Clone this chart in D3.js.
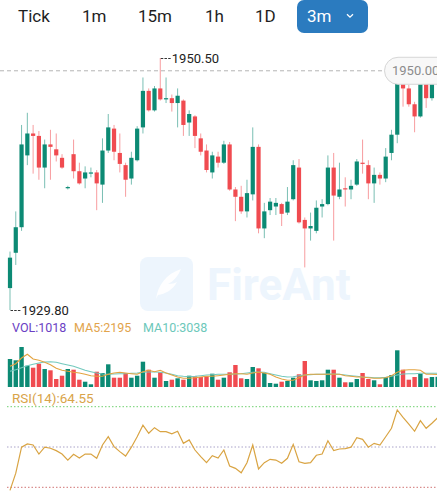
<!DOCTYPE html>
<html><head><meta charset="utf-8">
<script src="https://cdn.jsdelivr.net/npm/d3@7"></script>
<style>html,body{margin:0;padding:0;background:#fff;}svg{display:block;font-family:Roboto,"Noto Sans",sans-serif;}</style>
</head><body><div id="chart"></div>
<script>
const tabs = ["Tick","1m","15m","1h","1D"];
const activeTab = "3m";
const opens = [1931.6,1934.5,1936.6,1942.5,1944.3,1944.1,1941.5,1943.4,1943.0,1942.3,
1939.8,1942.6,1941.2,1940.6,1941.0,1941.1,1940.1,1942.9,1944.7,1942.7,
1941.7,1940.6,1942.1,1944.8,1947.8,1946.2,1948.0,1947.1,1947.2,1946.8,
1947.0,1945.2,1945.7,1943.9,1942.9,1941.1,1942.4,1941.9,1943.4,1939.7,
1939.1,1937.9,1939.3,1943.2,1936.5,1938.0,1938.3,1938.5,1937.8,1938.9,
1941.5,1937.2,1936.5,1936.3,1938.3,1938.5,1941.5,1939.1,1939.8,1939.7,
1940.1,1941.9,1941.7,1940.2,1940.9,1940.6,1942.7,1944.2,1948.5,1948.0,
1946.7,1945.7,1948.5,1947.2,1948.7];
const closes = [1934.1,1936.6,1943.4,1944.3,1944.1,1941.5,1943.4,1943.2,1942.5,1941.5,
1939.9,1941.2,1940.2,1941.1,1941.1,1940.2,1942.9,1944.8,1942.8,1941.8,
1940.5,1942.3,1944.7,1947.8,1946.2,1948.0,1947.1,1947.2,1946.8,1947.4,
1945.0,1945.9,1944.1,1942.8,1941.3,1942.5,1941.9,1943.4,1939.7,1939.1,
1937.9,1939.4,1943.2,1936.5,1937.9,1938.7,1938.6,1937.7,1938.7,1941.7,
1937.0,1936.5,1936.7,1938.2,1938.5,1941.5,1939.2,1939.7,1939.7,1940.0,
1942.0,1941.8,1940.2,1940.9,1940.6,1942.4,1944.2,1948.5,1948.0,1946.7,
1945.7,1948.7,1947.2,1948.7,1949.45];
const highs = [1934.6,1937.9,1945.0,1946.0,1945.0,1944.5,1943.8,1944.6,1944.3,1942.6,
1940.0,1943.8,1941.9,1941.6,1941.5,1941.3,1943.9,1945.9,1945.0,1944.3,
1941.9,1942.8,1944.9,1948.9,1948.0,1948.2,1950.5,1948.9,1947.5,1948.0,
1947.1,1946.2,1945.8,1944.3,1943.4,1942.8,1942.8,1943.7,1943.6,1939.9,
1940.0,1940.5,1944.8,1943.4,1938.6,1939.0,1939.0,1938.6,1939.9,1942.1,
1942.2,1937.4,1937.8,1938.8,1938.9,1942.5,1942.7,1941.9,1940.7,1940.5,
1942.2,1943.8,1942.1,1941.5,1941.1,1943.1,1944.6,1949.0,1948.9,1948.3,
1946.9,1949.0,1948.9,1949.0,1949.6];
const lows = [1929.8,1933.5,1936.3,1941.7,1941.0,1940.5,1939.8,1940.5,1942.0,1941.4,
1939.7,1940.6,1940.1,1939.8,1940.7,1938.0,1938.6,1942.7,1942.1,1941.1,
1939.1,1940.1,1942.0,1944.3,1946.1,1946.1,1947.0,1946.8,1946.1,1944.8,
1944.1,1944.1,1943.1,1942.5,1941.1,1940.6,1941.5,1941.8,1939.6,1937.1,
1937.7,1937.4,1938.8,1936.1,1935.7,1937.6,1937.6,1936.7,1937.6,1938.8,
1936.9,1933.3,1935.5,1936.1,1937.4,1938.4,1935.5,1938.9,1938.3,1938.9,
1940.0,1941.0,1938.9,1938.6,1940.1,1940.3,1942.1,1943.5,1946.5,1946.5,
1944.4,1945.6,1946.4,1947.0,1948.5];
const volumes = [2800,2670,4000,2130,1930,2330,1800,1670,800,1130,
1800,1730,730,530,270,1530,1400,2270,930,930,
1400,930,1130,2530,1730,930,1470,600,730,870,
730,1130,1070,1000,1070,1330,730,930,1470,2200,
870,800,2000,1870,1400,400,330,530,600,930,
1270,2600,670,600,670,1730,1730,930,470,470,
800,1400,800,670,270,1000,1200,3670,1730,730,
1000,1330,870,1000,1018];
const volMA5 = [2070,2330,2900,3270,2800,2670,2470,2230,1870,1670,
1570,1470,1400,1270,1130,1070,1070,1270,1400,1470,
1400,1330,1270,1530,1670,1530,1670,1400,1200,1000,
870,870,930,1000,1070,1070,1130,1200,1270,1330,
1330,1270,1400,1470,1400,1270,1000,800,670,670,
930,1200,1270,1270,1270,1270,1270,1270,1130,1070,
1000,1000,930,870,870,930,1130,1470,1670,1730,
1730,1670,1270,1270,1250];
const volMA10 = [1570,1730,1930,2130,2270,2400,2500,2530,2470,2330,
2200,2070,1870,1670,1530,1400,1300,1270,1300,1330,
1330,1370,1400,1470,1500,1500,1470,1400,1270,1130,
1070,1030,1070,1130,1200,1230,1270,1270,1270,1300,
1330,1400,1470,1500,1470,1330,1200,1070,1000,1030,
1130,1200,1230,1270,1270,1300,1300,1270,1200,1130,
1070,1000,970,930,930,970,1070,1200,1300,1330,
1330,1370,1370,1370,1370];
const rsi14 = [28.5,37.0,49.9,51.5,51.0,46.5,49.9,49.4,48.2,46.5,
43.5,46.4,44.5,46.5,46.5,44.4,51.0,55.1,50.2,47.7,
45.5,49.9,55.1,60.8,56.8,59.6,57.6,57.6,56.5,57.8,
51.8,53.5,48.5,45.2,42.2,45.7,44.5,48.5,40.6,39.4,
37.2,42.2,51.0,39.1,42.2,43.9,43.5,41.9,44.4,51.3,
42.7,41.9,42.2,45.9,46.5,53.1,48.2,49.0,49.2,49.9,
54.6,53.8,49.9,51.8,51.0,55.1,59.3,68.4,64.7,61.3,
57.8,63.1,59.3,61.8,64.55];
const rsiLevels = [70, 50, 30];
const lastPrice = 1949.45;
const lastPriceLabel = "1950.00";
const legendVol = ["VOL:1018","MA5:2195","MA10:3038"];
const rsiLabel = "RSI(14):64.55";
const watermark = "FireAnt";

const W = 437, H = 500;
const GREEN = "#0c8a74", RED = "#f04b50";
const svg = d3.select("#chart").append("svg").attr("width", W).attr("height", H);

// Tabs
const tabX = [18, 82, 138, 205, 255];
svg.selectAll("text.tab").data(tabs).join("text").attr("class","tab")
  .attr("x",(d,i)=>tabX[i]).attr("y",21.5).attr("font-size",17).attr("font-weight",400)
  .attr("fill","#1e1e1e").text(d=>d);
svg.append("rect").attr("x",297).attr("y",0).attr("width",71).attr("height",33).attr("rx",7).attr("fill","#2b7bbf");
svg.append("text").attr("x",307).attr("y",21.5).attr("font-size",17).attr("font-weight",400).attr("fill","#fff").text(activeTab);
svg.append("path").attr("d","M347,14.2 L350,17.2 L353,14.2").attr("fill","none").attr("stroke","#fff").attr("stroke-width",1.3);

const n = closes.length;
const x = d3.scaleLinear().domain([0, 74]).range([10, 10 + 5.78*74]);
const yP = d3.scaleLinear().domain([1929.8, 1950.5]).range([310, 58]);
const yV = d3.scaleLinear().domain([0, 4000]).range([387, 347]);
const yR = d3.scaleLinear().domain([30, 70]).range([487.3, 406.7]);

// Watermark
const wm = svg.append("g");
wm.append("rect").attr("x",140).attr("y",257).attr("width",53).attr("height",54).attr("rx",8).attr("fill","#edf5fd");
wm.append("path").attr("d","M156,299 C158,285 166,274 181,269 C178,276 174,281 168,284 C172,284 175,283 177,282 C173,290 165,294 158,295 Z").attr("fill","#fff").attr("opacity",0.9);
wm.append("text").attr("x",207).attr("y",300).attr("font-size",44).attr("font-weight",700).attr("fill","#edf5fd").text(watermark);

// last price dashed line
svg.append("line").attr("x1",0).attr("x2",385).attr("y1",yP(lastPrice)).attr("y2",yP(lastPrice))
  .attr("stroke","#b4b4b4").attr("stroke-dasharray","4,3");

const idx = d3.range(n);
const col = i => closes[i] >= opens[i] ? GREEN : RED;
const cg = svg.append("g");
cg.selectAll("line").data(idx).join("line")
  .attr("x1",i=>x(i)).attr("x2",i=>x(i)).attr("y1",i=>yP(highs[i])).attr("y2",i=>yP(lows[i]))
  .attr("stroke",col).attr("stroke-width",1).attr("stroke-opacity",0.55);
cg.selectAll("rect").data(idx).join("rect")
  .attr("x",i=>x(i)-2.1).attr("width",4.2)
  .attr("y",i=>yP(Math.max(opens[i],closes[i])))
  .attr("height",i=>Math.max(1.2, Math.abs(yP(opens[i])-yP(closes[i]))))
  .attr("fill",col);

// last price label box
svg.append("rect").attr("x",384.5).attr("y",yP(lastPrice)-13.5).attr("width",70).attr("height",27).attr("rx",13.5)
  .attr("fill","#f8f8f8").attr("stroke","#d6d6d6");
svg.append("text").attr("x",392).attr("y",yP(lastPrice)).attr("dy","0.35em").attr("font-size",13).attr("fill","#8c8c8c").text(lastPriceLabel);

// high / low markers
const hiI = d3.maxIndex(highs), loI = d3.minIndex(lows);
const marks = [{i:hiI, v:highs[hiI]}, {i:loI, v:lows[loI]}];
marks.forEach(m => {
  svg.append("line").attr("x1",x(m.i)+0.5).attr("x2",x(m.i)+11).attr("y1",yP(m.v)+0.5).attr("y2",yP(m.v)+0.5)
    .attr("stroke","#333").attr("stroke-width",1).attr("stroke-dasharray","2.5,1.2");
  svg.append("text").attr("x",x(m.i)+11.5).attr("y",yP(m.v)+0.8).attr("dy","0.35em").attr("font-size",13).attr("fill","#222").text(m.v.toFixed(2));
});

// Volume legend
const legCol = ["#6b3fc4","#e2a44c","#6cc8ba"];
const legX = [12, 74, 143];
svg.selectAll("text.leg").data(legendVol).join("text").attr("class","leg")
  .attr("x",(d,i)=>legX[i]).attr("y",332).attr("font-size",12.5).attr("fill",(d,i)=>legCol[i]).text(d=>d);

// Volume bars
svg.append("g").selectAll("rect").data(idx).join("rect")
  .attr("x",i=>x(i)-2.2).attr("width",4.4)
  .attr("y",i=>yV(volumes[i])).attr("height",i=>yV(0)-yV(volumes[i]))
  .attr("fill",col);
const lineV = arr => d3.line().x((d,i)=>x(i)).y(d=>yV(d)).curve(d3.curveLinear)(arr);
svg.append("path").attr("d",lineV(volMA10)).attr("fill","none").attr("stroke","#72c9bd").attr("stroke-width",1.1);
svg.append("path").attr("d",lineV(volMA5)).attr("fill","none").attr("stroke","#e3a340").attr("stroke-width",1.1);

// RSI
svg.append("text").attr("x",12).attr("y",402.5).attr("font-size",13.5).attr("fill","#d9a44a").text(rsiLabel);
const lvlCol = ["#6fd06f","#a9a2c8","#d07474"];
svg.selectAll("line.lvl").data(rsiLevels).join("line").attr("class","lvl")
  .attr("x1",7).attr("x2",W).attr("y1",d=>yR(d)).attr("y2",d=>yR(d))
  .attr("stroke",(d,i)=>lvlCol[i]).attr("stroke-width",1).attr("stroke-dasharray","1.5,2");
svg.append("path").attr("d",d3.line().x((d,i)=>x(i)).y(d=>yR(d))(rsi14))
  .attr("fill","none").attr("stroke","#d9a443").attr("stroke-width",1.2);
</script></body></html>
